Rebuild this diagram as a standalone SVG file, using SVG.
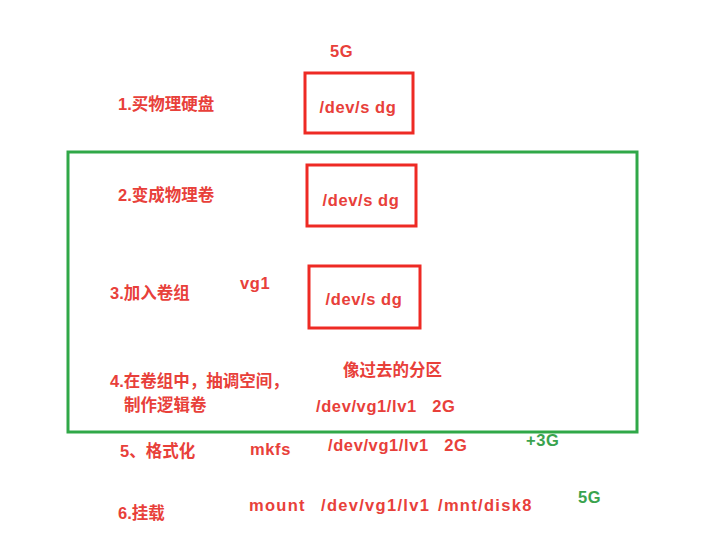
<svg xmlns="http://www.w3.org/2000/svg" width="705" height="544" viewBox="0 0 705 544">
<style>
.t{font-family:"Liberation Sans","Noto Sans CJK SC",sans-serif;font-size:16.5px;font-weight:bold;fill:#e8403a}
.l{letter-spacing:0.6px}
.w{letter-spacing:1.3px}
.g{fill:#3aa34e}
.box{fill:none;stroke:#ee2a24;stroke-width:3}
</style>
<rect width="705" height="544" fill="#ffffff"/>
<rect x="68" y="152" width="569" height="280" fill="none" stroke="#30a848" stroke-width="3"/>
<g id="n1">
<text class="t l" x="330" y="57">5G</text>
<text class="t" x="118" y="110">1.买物理硬盘</text>
<rect class="box" x="305" y="73" width="108" height="60"/>
<text class="t l" x="358" y="113" text-anchor="middle">/dev/s dg</text>
</g>
<g id="n2">
<text class="t" x="118" y="201">2.变成物理卷</text>
<rect class="box" x="307" y="165" width="109" height="61"/>
<text class="t l" x="361" y="206" text-anchor="middle">/dev/s dg</text>
</g>
<g id="n3">
<text class="t" x="110" y="299">3.加入卷组</text>
<text class="t l" x="240" y="289">vg1</text>
<rect class="box" x="309" y="266" width="111" height="62"/>
<text class="t l" x="364" y="305" text-anchor="middle">/dev/s dg</text>
</g>
<g id="n4">
<text class="t" x="343" y="376">像过去的分区</text>
<text class="t" x="110" y="387">4.在卷组中，抽调空间，</text>
<text class="t" x="124" y="411">制作逻辑卷</text>
<text class="t l" x="316" y="412" xml:space="preserve">/dev/vg1/lv1   2G</text>
</g>
<g id="n5">
<text class="t" x="120" y="457">5、格式化</text>
<text class="t l" x="250" y="455">mkfs</text>
<text class="t l" x="328" y="451" xml:space="preserve">/dev/vg1/lv1   2G</text>
<text class="t l g" x="526" y="446">+3G</text>
</g>
<g id="n6">
<text class="t" x="118" y="519">6.挂载</text>
<text class="t w" x="249" y="511">mount</text>
<text class="t w" x="321" y="511">/dev/vg1/lv1</text>
<text class="t w" x="438" y="511">/mnt/disk8</text>
<text class="t l g" x="578" y="503">5G</text>
</g>
<g id="connectors"></g>
</svg>
